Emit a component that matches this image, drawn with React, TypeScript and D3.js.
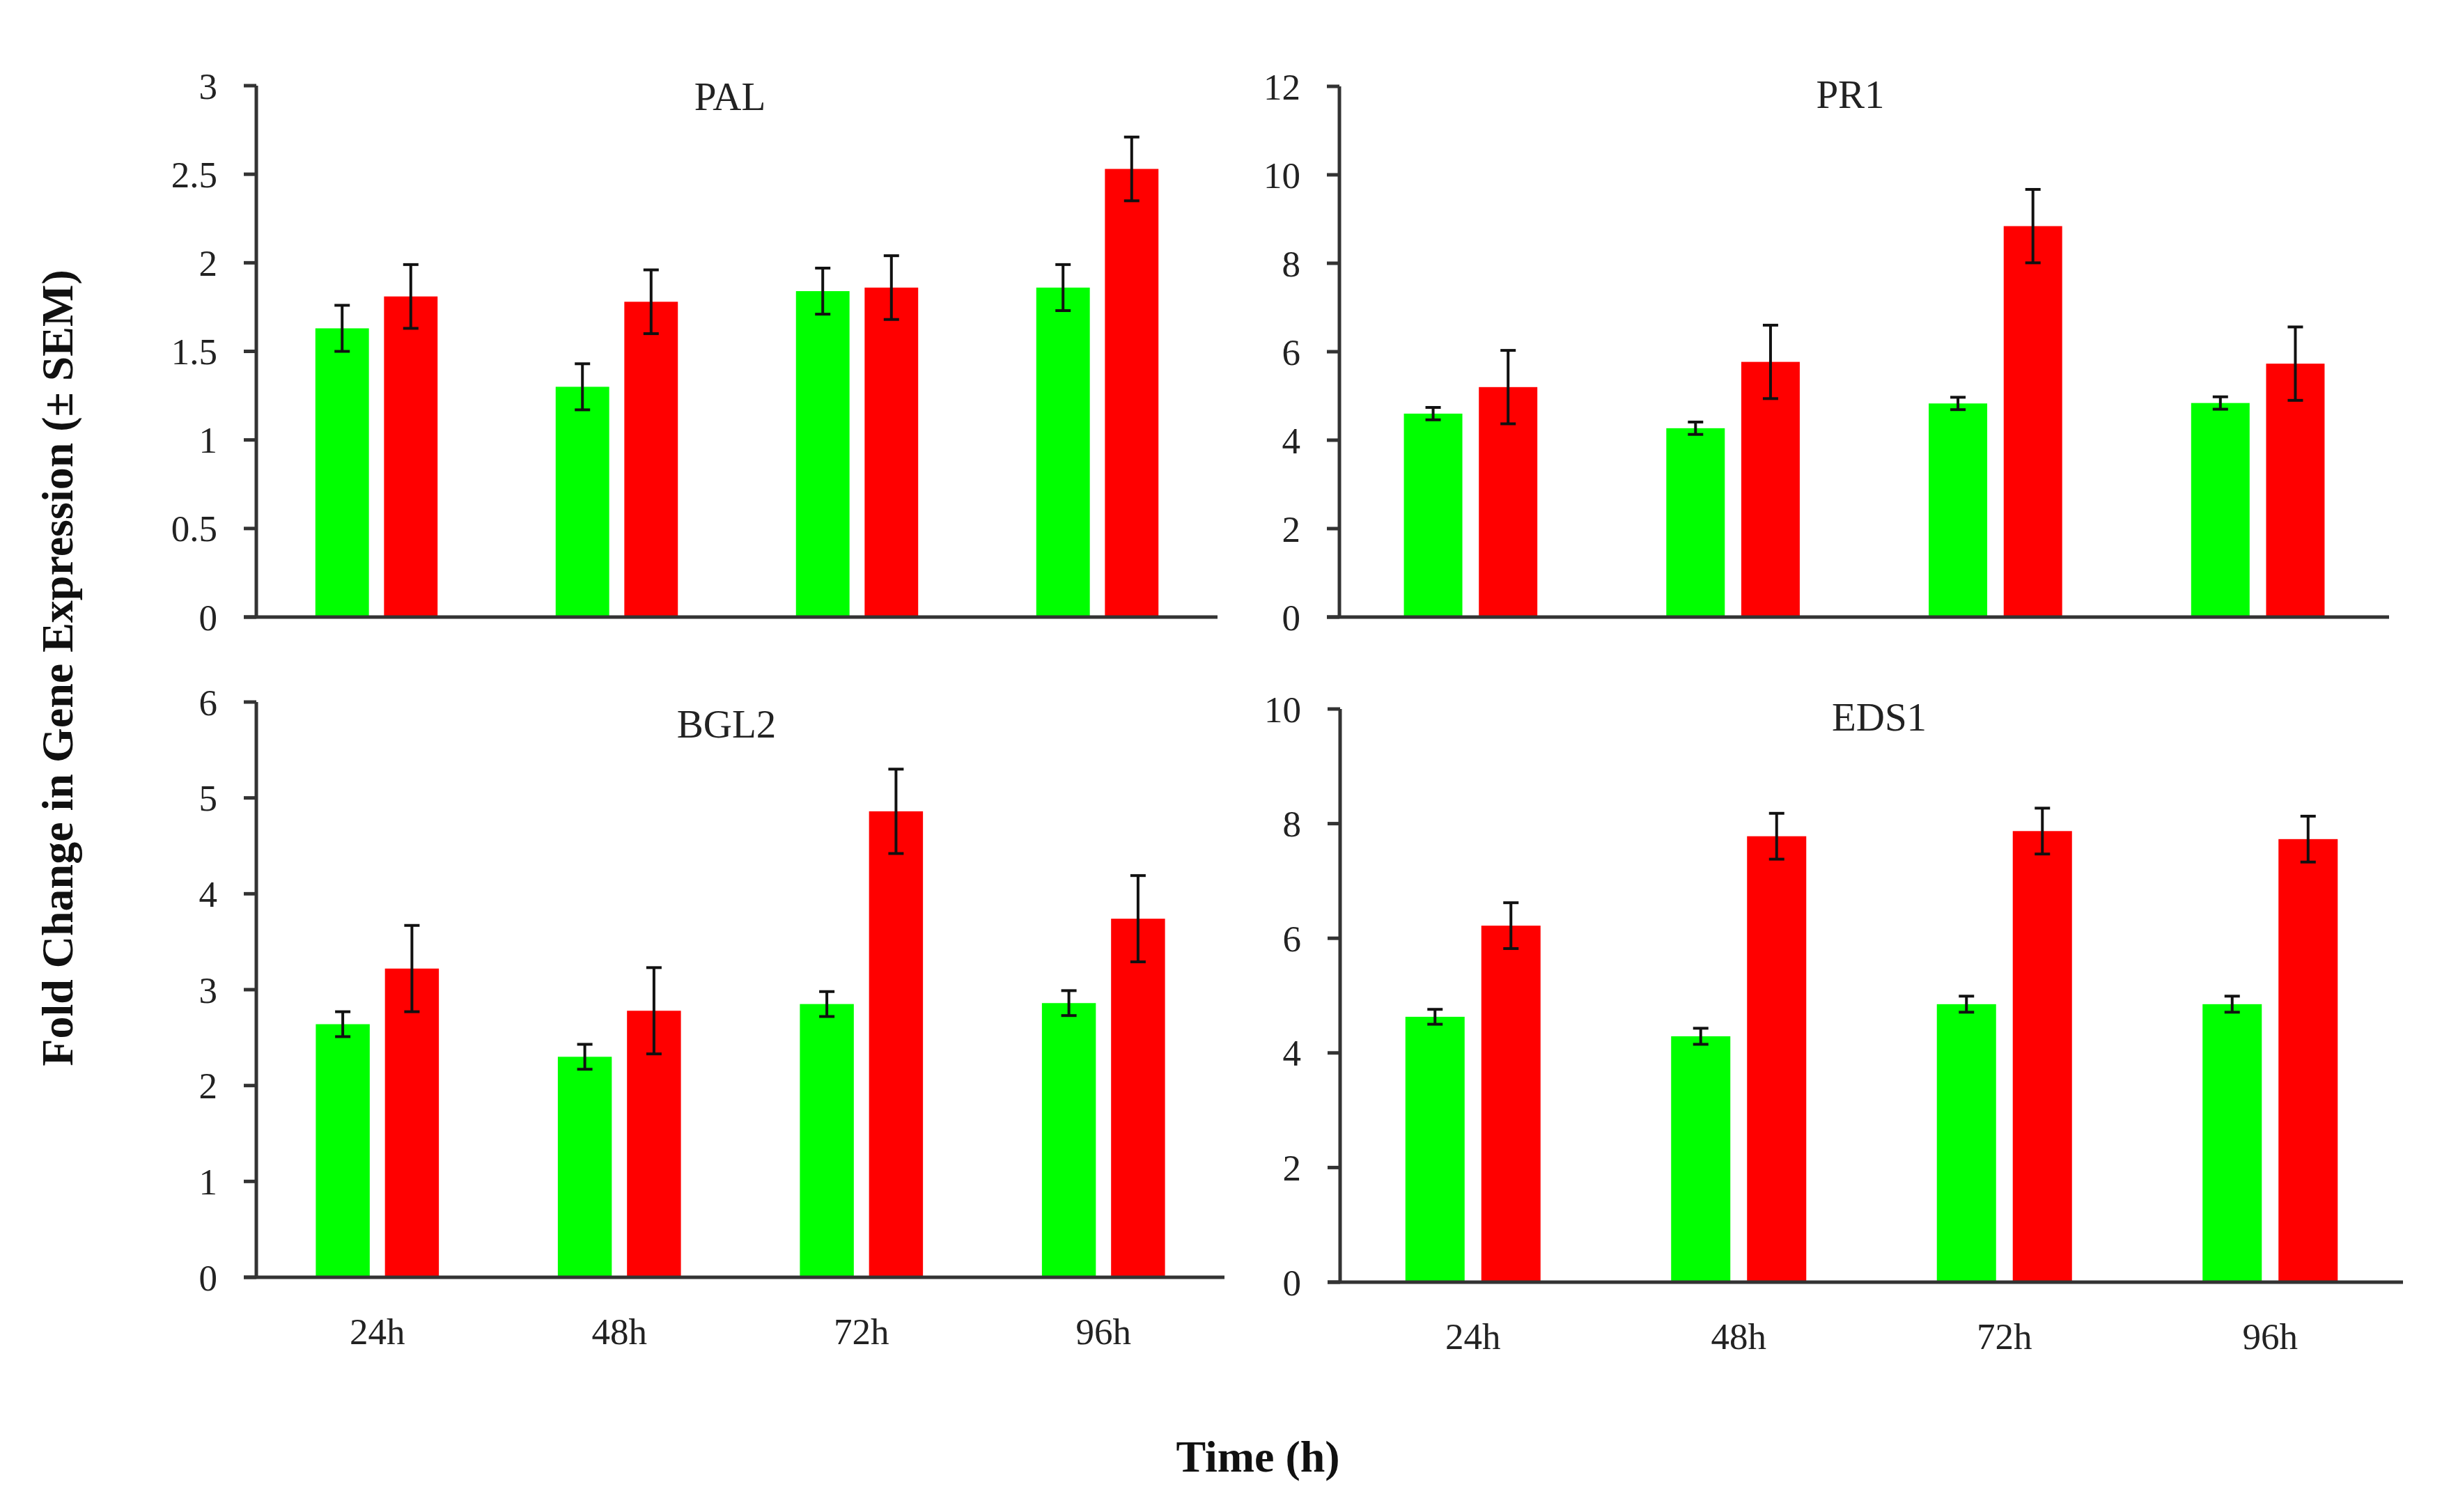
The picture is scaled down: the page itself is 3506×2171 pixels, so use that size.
import * as d3 from "d3";

const WIDTH = 3506;
const HEIGHT = 2171;

const categories = ["24h", "48h", "72h", "96h"];
const seriesKeys = ["control", "treated"];
const seriesColors = ["#00ff00", "#ff0000"];

// PAL
const palControl = [1.63, 1.3, 1.84, 1.86];
const palControlSem = [0.13, 0.13, 0.13, 0.13];
const palTreated = [1.81, 1.78, 1.86, 2.53];
const palTreatedSem = [0.18, 0.18, 0.18, 0.18];
const palTicks = [0, 0.5, 1, 1.5, 2, 2.5, 3];

// PR1
const pr1Control = [4.6, 4.27, 4.83, 4.84];
const pr1ControlSem = [0.14, 0.14, 0.14, 0.14];
const pr1Treated = [5.2, 5.77, 8.84, 5.73];
const pr1TreatedSem = [0.83, 0.83, 0.83, 0.83];
const pr1Ticks = [0, 2, 4, 6, 8, 10, 12];

// BGL2
const bgl2Control = [2.64, 2.3, 2.85, 2.86];
const bgl2ControlSem = [0.13, 0.13, 0.13, 0.13];
const bgl2Treated = [3.22, 2.78, 4.86, 3.74];
const bgl2TreatedSem = [0.45, 0.45, 0.44, 0.45];
const bgl2Ticks = [0, 1, 2, 3, 4, 5, 6];

// EDS1
const eds1Control = [4.63, 4.29, 4.85, 4.85];
const eds1ControlSem = [0.13, 0.14, 0.14, 0.14];
const eds1Treated = [6.22, 7.78, 7.87, 7.73];
const eds1TreatedSem = [0.4, 0.4, 0.4, 0.4];
const eds1Ticks = [0, 2, 4, 6, 8, 10];

const yLabel = "Fold Change in Gene Expression (\u00b1 SEM)";
const xLabel = "Time (h)";

const FONT = "'Palatino Linotype', 'Book Antiqua', Palatino, 'Liberation Serif', 'Times New Roman', serif";
const AXIS_COLOR = "#333333";

const panels = [
  {
    title: "PAL",
    values: [palControl, palTreated],
    sems: [palControlSem, palTreatedSem],
    ticks: palTicks,
    box: { left: 368, right: 1748, top: 123, bottom: 886 },
    titlePos: { dx: -10, y: 158 },
    showX: false,
  },
  {
    title: "PR1",
    values: [pr1Control, pr1Treated],
    sems: [pr1ControlSem, pr1TreatedSem],
    ticks: pr1Ticks,
    box: { left: 1923, right: 3430, top: 124, bottom: 886 },
    titlePos: { dx: -20, y: 155 },
    showX: false,
  },
  {
    title: "BGL2",
    values: [bgl2Control, bgl2Treated],
    sems: [bgl2ControlSem, bgl2TreatedSem],
    ticks: bgl2Ticks,
    box: { left: 368, right: 1758, top: 1008, bottom: 1834 },
    titlePos: { dx: -20, y: 1059 },
    showX: true,
  },
  {
    title: "EDS1",
    values: [eds1Control, eds1Treated],
    sems: [eds1ControlSem, eds1TreatedSem],
    ticks: eds1Ticks,
    box: { left: 1924, right: 3450, top: 1018, bottom: 1841 },
    titlePos: { dx: 11, y: 1049 },
    showX: true,
  },
];

type Panel = (typeof panels)[number];

function BarPanel({ panel }: { panel: Panel }) {
  const { box, ticks } = panel;
  const x0 = d3.scaleBand<string>().domain(categories).range([box.left, box.right]).padding(0);
  const x1 = d3
    .scaleBand<string>()
    .domain(seriesKeys)
    .range([0, x0.bandwidth()])
    .paddingInner(0.22)
    .paddingOuter(0.86);
  const y = d3
    .scaleLinear()
    .domain([0, d3.max(ticks) as number])
    .range([box.bottom, box.top]);
  const capHalf = 11;
  const tickLen = 18;

  return (
    <g>
      {/* bars */}
      {seriesKeys.map((key, si) =>
        categories.map((cat, ci) => {
          const v = panel.values[si][ci];
          return (
            <rect
              key={`${key}-${cat}`}
              x={(x0(cat) as number) + (x1(key) as number)}
              y={y(v)}
              width={x1.bandwidth()}
              height={y(0) - y(v)}
              fill={seriesColors[si]}
            />
          );
        })
      )}

      {/* error bars */}
      {seriesKeys.map((key, si) =>
        categories.map((cat, ci) => {
          const v = panel.values[si][ci];
          const e = panel.sems[si][ci];
          const cx = (x0(cat) as number) + (x1(key) as number) + x1.bandwidth() / 2;
          const yt = y(v + e);
          const yb = y(v - e);
          return (
            <g key={`err-${key}-${cat}`} stroke="#111" strokeWidth={4}>
              <line x1={cx} x2={cx} y1={yt} y2={yb} />
              <line x1={cx - capHalf} x2={cx + capHalf} y1={yt} y2={yt} />
              <line x1={cx - capHalf} x2={cx + capHalf} y1={yb} y2={yb} />
            </g>
          );
        })
      )}

      {/* y axis */}
      <line
        x1={box.left}
        x2={box.left}
        y1={y(d3.max(ticks) as number)}
        y2={y(0)}
        stroke={AXIS_COLOR}
        strokeWidth={5}
      />
      {ticks.map((t) => (
        <g key={`tick-${t}`}>
          <line
            x1={box.left - tickLen}
            x2={box.left}
            y1={y(t)}
            y2={y(t)}
            stroke={AXIS_COLOR}
            strokeWidth={5}
          />
          <text
            x={box.left - 56}
            y={y(t)}
            dy="0.35em"
            textAnchor="end"
            fontSize={53}
            fill="#222"
            fontFamily={FONT}
          >
            {t}
          </text>
        </g>
      ))}

      {/* x axis */}
      <line
        x1={box.left - tickLen}
        x2={box.right}
        y1={y(0)}
        y2={y(0)}
        stroke={AXIS_COLOR}
        strokeWidth={5}
      />
      {panel.showX &&
        categories.map((cat) => (
          <text
            key={`xl-${cat}`}
            x={(x0(cat) as number) + x0.bandwidth() / 2}
            y={y(0) + 96}
            textAnchor="middle"
            fontSize={53}
            fill="#222"
            fontFamily={FONT}
          >
            {cat}
          </text>
        ))}

      {/* title */}
      <text
        x={(box.left + box.right) / 2 + panel.titlePos.dx}
        y={panel.titlePos.y}
        textAnchor="middle"
        fontSize={57}
        fill="#222"
        fontFamily={FONT}
      >
        {panel.title}
      </text>
    </g>
  );
}

export default function App() {
  return (
    <svg
      width={WIDTH}
      height={HEIGHT}
      viewBox={`0 0 ${WIDTH} ${HEIGHT}`}
      style={{ position: "absolute", left: 0, top: 0, background: "#fff" }}
    >
      <rect width={WIDTH} height={HEIGHT} fill="#fff" />
      {panels.map((p) => (
        <BarPanel key={p.title} panel={p} />
      ))}
      <text
        transform="translate(104,959) rotate(-90)"
        textAnchor="middle"
        fontSize={64}
        fontWeight="bold"
        fill="#111"
        fontFamily={FONT}
      >
        {yLabel}
      </text>
      <text
        x={1806}
        y={2113}
        textAnchor="middle"
        fontSize={64}
        fontWeight="bold"
        fill="#111"
        fontFamily={FONT}
      >
        {xLabel}
      </text>
    </svg>
  );
}
